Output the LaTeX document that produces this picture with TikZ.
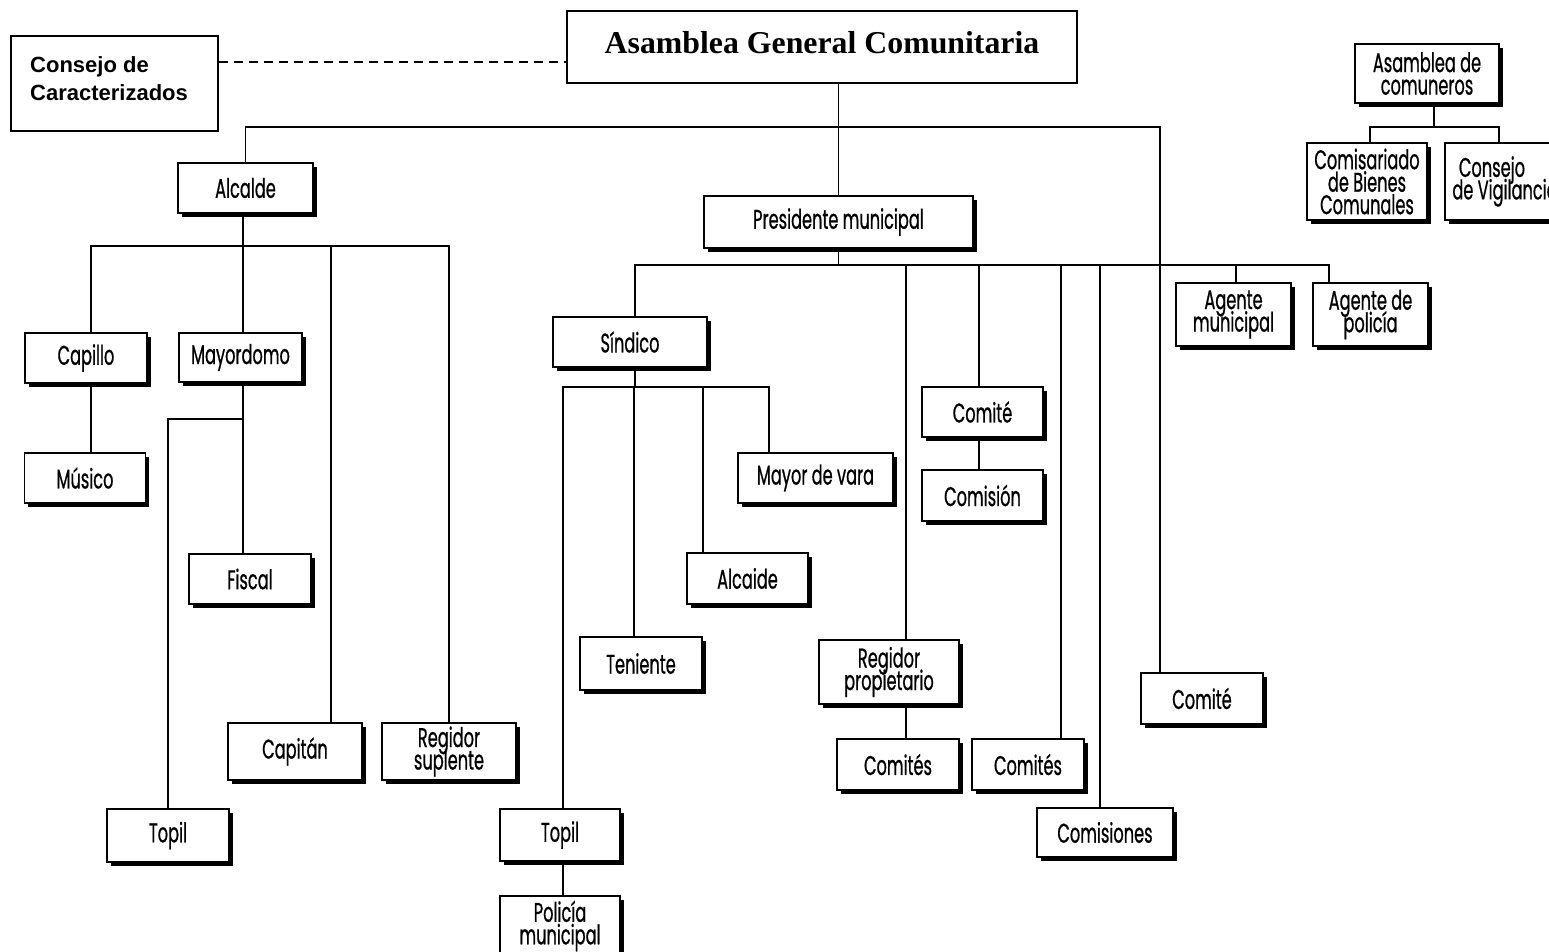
\documentclass[tikz,border=0pt]{standalone}
\usepackage{fontspec}
\usetikzlibrary{shadows}
\newfontfamily\orgfont{Poppins}[FakeStretch=0.6, FakeBold=0.7]
\newfontfamily\titlefont{Liberation Serif}
\newfontfamily\headfont{Liberation Sans}
% fixed line spacing inside the unit boxes
\newcommand{\unitfont}{\orgfont\fontsize{27}{22.5}\selectfont\lineskiplimit=-100pt\relax\lineskip=0pt\relax}

\tikzset{
  unitbox/.style={draw, line width=1.8pt, fill=white, inner sep=0pt, align=center,
    drop shadow={shadow xshift=3.5pt, shadow yshift=-3.5pt, fill=black, opacity=1},
    font=\unitfont},
  plainbox/.style={draw, line width=1.8pt, fill=white, inner sep=0pt},
  link/.style={line width=1.6pt, black},
}
% \orgunit{name}{cx}{cy}{width}{height}{text}
\newcommand{\orgunit}[6]{\node[unitbox, minimum width=#4pt, minimum height=#5pt] (#1) at (#2,#3) {#6};}

\begin{document}
\begin{tikzpicture}[x=1pt, y=-1pt]
\fill[white] (0,0) rectangle (1549,951);
\useasboundingbox (0,0) rectangle (1549,951);

% top level
\node[plainbox, minimum width=510pt, minimum height=72pt] (agc) at (822,47) {};
\node[font=\titlefont\bfseries\fontsize{31.8}{36}\selectfont, inner sep=0pt, anchor=base] (agctext) at (822,53) {Asamblea General Comunitaria};
\node[plainbox, minimum width=207pt, minimum height=95pt] (cons) at (114.5,83.5) {};
\node[font=\headfont\bfseries\fontsize{22}{28}\selectfont, inner sep=0pt, anchor=base west, align=left] (constext) at (30,100) {Consejo de\\Caracterizados};

% communal lands
\orgunit{asc}{1427}{73.5}{144}{59}{Asamblea de\\comuneros}
\orgunit{comis}{1367}{181.5}{120}{77}{Comisariado\\de Bienes\\Comunales}
\orgunit{vig}{1505}{181.5}{120}{77}{\hspace*{-26pt}Consejo\\de Vigilancia}

% Alcalde branch
\orgunit{alc}{245.5}{188}{135}{50}{Alcalde}
\orgunit{cap}{86}{358}{122}{50}{Capillo}
\orgunit{mus}{85}{478}{121}{50}{Músico}
\orgunit{may}{240.5}{357.5}{123}{49}{Mayordomo}
\orgunit{fis}{250}{579}{122}{50}{Fiscal}
\orgunit{topA}{168}{835.5}{122}{53}{Topil}
\orgunit{capi}{295}{751.5}{134}{57}{Capitán}
\orgunit{regsup}{449}{751.5}{134}{57}{Regidor\\suplente}

% Presidente branch
\orgunit{pres}{838.5}{222}{269}{52}{Presidente municipal}
\orgunit{sind}{630}{342}{154}{50}{Síndico}
\orgunit{mayor}{815.5}{478}{155}{50}{Mayor de vara}
\orgunit{alcd}{747.5}{578.5}{121}{51}{Alcaide}
\orgunit{ten}{641}{663.5}{122}{53}{Teniente}
\orgunit{topB}{560}{835}{120}{52}{Topil}
\orgunit{pol}{560}{926}{120}{60}{Policía\\municipal}
\orgunit{comA}{982.5}{412}{121}{50}{Comité}
\orgunit{comsA}{982.5}{495.5}{121}{51}{Comisión}
\orgunit{regprop}{889}{672}{140}{64}{Regidor\\propietario}
\orgunit{ctsA}{898}{764.5}{122}{51}{Comités}
\orgunit{ctsB}{1028}{764.5}{112}{51}{Comités}
\orgunit{comsB}{1105}{832.5}{136}{49}{Comisiones}
\orgunit{comB}{1202}{698.5}{122}{51}{Comité}
\orgunit{agmun}{1233.5}{314.5}{115}{63}{Agente\\municipal}
\orgunit{agpol}{1370.5}{314.5}{115}{63}{Agente de\\policía}

% junction points of the bars
\coordinate (t1) at (838,127);
\coordinate (a1) at (243,246);
\coordinate (a2) at (243,419);
\coordinate (p1) at (838,265);
\coordinate (s1) at (635,387);
\coordinate (c1) at (1434,127);

% assembly links
\draw[dashed, line width=1.3pt, dash pattern=on 9pt off 6pt] (cons.east |- 0,62) -- (agc.west |- 0,62);
\draw[link] (pres.north) -- (pres.north |- agc.south);
\draw[link] (alc.north) |- (t1);
\draw[link] ([xshift=-42pt]comB.north) |- (t1);

% Alcalde children
\draw[link] (a1 |- alc.south) -- (a1);
\draw[link] ([xshift=5pt]cap.north) |- (a1);
\draw[link] (a1) -- (a1 |- may.north);
\draw[link] ([xshift=36pt]capi.north) |- (a1);
\draw[link] (regsup.north) |- (a1);
\draw[link] ([xshift=5pt]cap.south) -- ([xshift=5pt]cap.south |- mus.north);
\draw[link] (a2 |- may.south) -- (a2 |- fis.north);
\draw[link] (topA.north) |- (a2);

% Presidente children
\draw[link] (pres.south) -- (pres.south |- p1);
\draw[link] ([xshift=5pt]sind.north) |- (p1);
\draw[link] ([xshift=17pt]regprop.north) |- (p1);
\draw[link] ([xshift=-3.5pt]comA.north) |- (p1);
\draw[link] ([xshift=33pt]ctsB.north) |- (p1);
\draw[link] ([xshift=-5pt]comsB.north) |- (p1);
\draw[link] ([xshift=2.5pt]agmun.north) |- (p1);
\draw[link] ([xshift=-41.5pt]agpol.north) |- (p1);
\draw[link] ([xshift=-3.5pt]comA.south) -- ([xshift=-3.5pt]comA.south |- comsA.north);
\draw[link] ([xshift=17pt]regprop.south) -- ([xshift=17pt]regprop.south |- ctsA.north);

% Sindico children
\draw[link] ([xshift=5pt]sind.south) -- (s1);
\draw[link] ([xshift=3pt]topB.north) |- (s1);
\draw[link] ([xshift=-7pt]ten.north) |- (s1);
\draw[link] ([xshift=-44.5pt]alcd.north) |- (s1);
\draw[link] ([xshift=-46.5pt]mayor.north) |- (s1);
\draw[link] ([xshift=3pt]topB.south) -- ([xshift=3pt]topB.south |- pol.north);

% comuneros
\draw[link] (c1 |- asc.south) -- (c1);
\draw[link] ([xshift=3pt]comis.north) |- (c1);
\draw[link] ([xshift=-6pt]vig.north) |- (c1);
\end{tikzpicture}
\end{document}
